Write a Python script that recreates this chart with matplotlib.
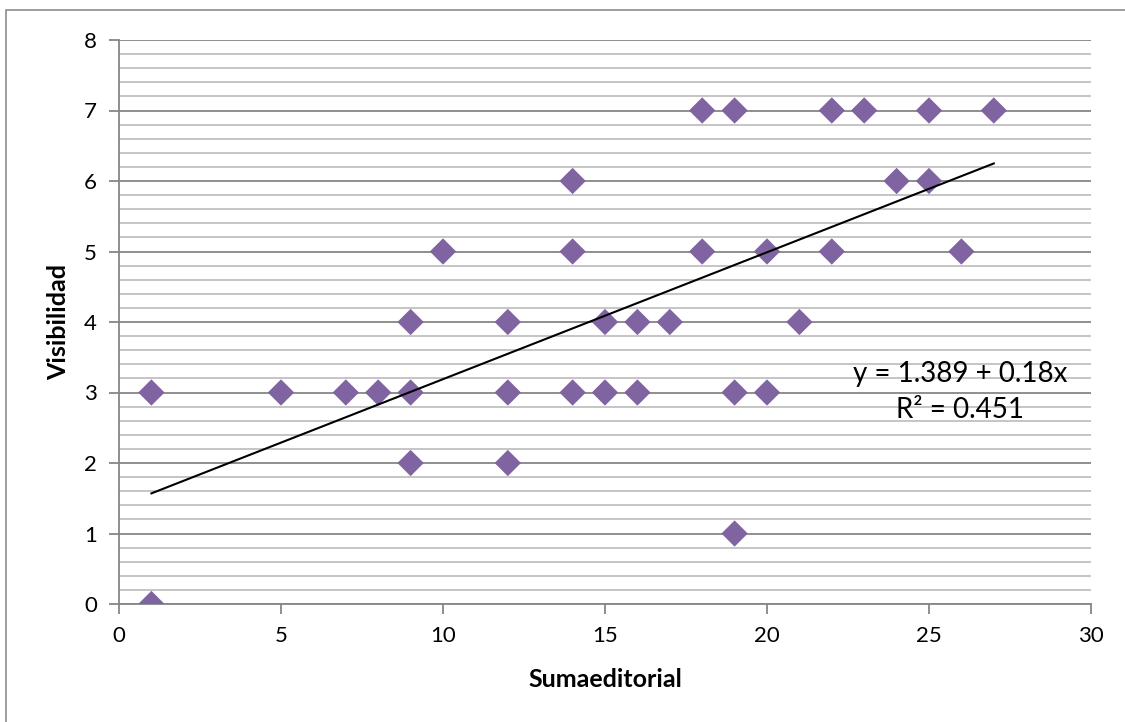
import matplotlib.pyplot as plt
from matplotlib.patches import Rectangle
from matplotlib.ticker import MultipleLocator

plt.rcParams['font.family'] = ['Lato', 'DejaVu Sans']

# data
sumaeditorial = [1, 1, 5, 7, 8, 9, 9, 9, 10, 12, 12, 12, 14, 14, 14, 15, 15, 16, 16, 17,
                 18, 18, 19, 19, 19, 20, 20, 21, 22, 22, 23, 24, 25, 25, 26, 27]
visibilidad = [3, 0, 3, 3, 3, 4, 3, 2, 5, 4, 3, 2, 6, 5, 3, 4, 3, 4, 3, 4,
               7, 5, 7, 3, 1, 5, 3, 4, 7, 5, 7, 6, 7, 6, 5, 7]
intercept = 1.389
slope = 0.18
r2 = 0.451

fig = plt.figure(figsize=(11.25, 7.22), dpi=100)
ax = fig.add_axes([119 / 1125, 1 - 604 / 722, (1091 - 119) / 1125, (604 - 40) / 722])

# outer chart border (cut off at right/bottom like the original)
fig.patches.append(Rectangle((6 / 1125, -0.1), 1.2, (722 - 10) / 722 + 0.1,
                             transform=fig.transFigure, fill=False,
                             edgecolor='#8c8c8c', linewidth=1.2))

ax.set_xlim(0, 30)
ax.set_ylim(0, 8)
ax.xaxis.set_major_locator(MultipleLocator(5))
ax.yaxis.set_major_locator(MultipleLocator(1))
ax.yaxis.set_minor_locator(MultipleLocator(0.2))

ax.grid(axis='y', which='major', color='#868686', linewidth=1.3)
ax.grid(axis='y', which='minor', color='#c0c0c0', linewidth=1.3)
ax.set_axisbelow(True)

for s in ['top', 'right']:
    ax.spines[s].set_visible(False)
for s in ['left', 'bottom']:
    ax.spines[s].set_color('#868686')
    ax.spines[s].set_linewidth(1.3)
ax.tick_params(which='major', direction='out', length=7, width=1.3, color='#868686',
               labelsize=16, pad=9)
ax.tick_params(which='minor', length=0)

ax.scatter(sumaeditorial, visibilidad, marker='D', s=180, color='#8064A2',
           edgecolors='none', zorder=3)

xs = [min(sumaeditorial), max(sumaeditorial)]
ax.plot(xs, [intercept + slope * x for x in xs], color='black', linewidth=1.5, zorder=4)

ax.text(960 / 1125, 1 - 392 / 722,
        f'y = {intercept} + {slope}x\nR² = {r2}',
        transform=fig.transFigure, ha='center', va='center', fontsize=20,
        linespacing=1.5)

ax.set_xlabel('Sumaeditorial', fontsize=18, fontweight='bold', labelpad=16)
ax.set_ylabel('Visibilidad', fontsize=18, fontweight='bold', labelpad=10)

fig.savefig('out.png', dpi=100)
